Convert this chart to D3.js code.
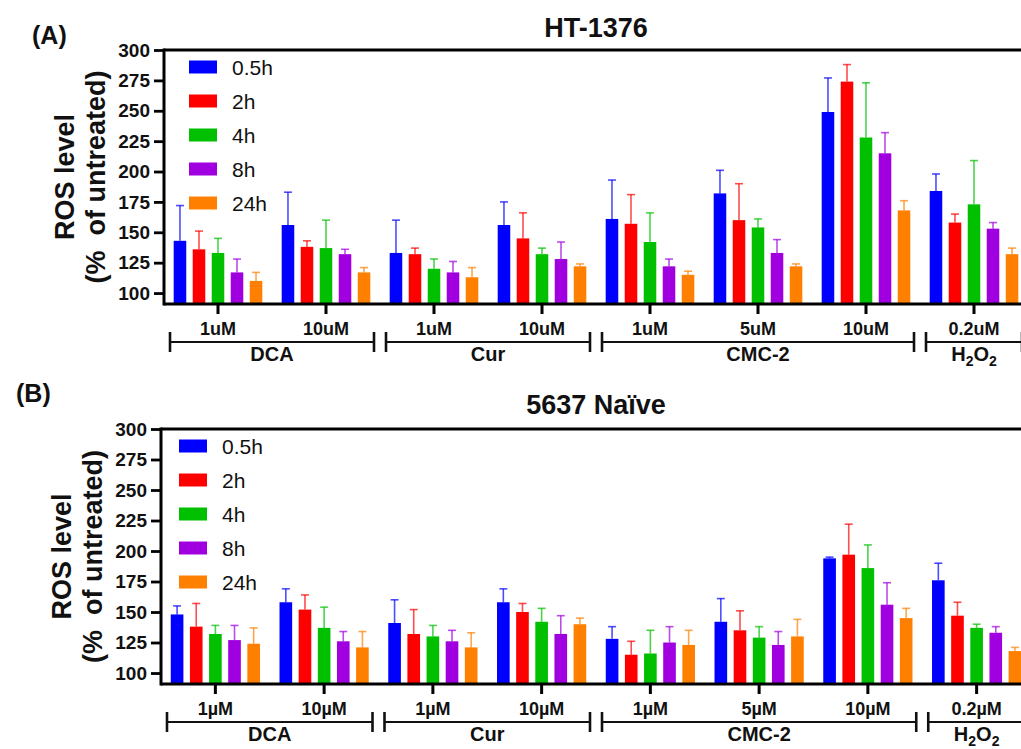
<!DOCTYPE html>
<html>
<head>
<meta charset="utf-8">
<script src="https://cdn.jsdelivr.net/npm/d3@7"></script>
<style>
body { margin: 0; background: #fff; }
svg { display: block; font-family: "Liberation Sans", Arial, sans-serif; }
text { white-space: pre; }
</style>
</head>
<body>
<svg width="1021" height="749"></svg>
<script>
// Time points (legend) and their colours.
var series = ["0.5h", "2h", "4h", "8h", "24h"];
var colors = ["#0000ff", "#ff0000", "#00c000", "#a000e0", "#ff8000"];

// Concentration ticks and the drug groups they belong to.
var ticksA = ["1uM", "10uM", "1uM", "10uM", "1uM", "5uM", "10uM", "0.2uM"];
var ticksB = ["1\u00b5M", "10\u00b5M", "1\u00b5M", "10\u00b5M", "1\u00b5M", "5\u00b5M", "10\u00b5M", "0.2\u00b5M"];
var drugs = ["DCA", "Cur", "CMC-2", "H2O2"];
var drugSpan = [[0, 1], [2, 3], [4, 6], [7, 7]];

var yTicks = [100, 125, 150, 175, 200, 225, 250, 275, 300];

// HT-1376: mean per concentration, one row per time point.
var meanA = [
	[143, 156, 133, 156, 161, 182, 249, 184],
	[136, 138, 132, 145, 157, 160, 274, 158],
	[133, 137, 120, 132, 142, 154, 228, 173],
	[117, 132, 117, 128, 122, 133, 215, 153],
	[110, 117, 113, 122, 115, 122, 168, 132]
];
var errA = [
	[172, 183, 160, 175, 193, 201, 277, 198],
	[151, 143, 137, 166, 181, 190, 288, 165],
	[145, 160, 128, 137, 166, 161, 273, 209],
	[128, 136, 126, 142, 128, 144, 232, 158],
	[117, 121, 121, 124, 118, 124, 176, 137]
];

// 5637 Naive.
var meanB = [
	[148, 158, 141, 158, 128, 142, 194, 176],
	[138, 152, 132, 150, 115, 135, 197, 147],
	[132, 137, 130, 142, 116, 129, 186, 137],
	[127, 126, 126, 132, 125, 123, 156, 133],
	[124, 121, 121, 140, 123, 130, 145, 118]
];
var errB = [
	[155, 169, 160, 169, 138, 161, 195, 190],
	[157, 164, 152, 157, 126, 151, 222, 158],
	[139, 154, 139, 153, 135, 138, 205, 140],
	[139, 134, 135, 147, 138, 134, 174, 138],
	[137, 134, 133, 145, 135, 144, 153, 121]
];

var svg = d3.select("svg");

function panel(opt) {
	var g = svg.append("g");

	var x0 = d3.scaleBand().domain(d3.range(8)).range([opt.left, opt.right]);
	var x1 = d3.scaleBand().domain(series).range([0, x0.bandwidth()])
		.paddingInner(0.34).paddingOuter(0.51);
	var y = d3.scaleLinear().domain([91, 300]).range([opt.bottom, opt.top]);

	// Bars and error bars.
	series.forEach(function(s, si) {
		var rows = d3.range(8).map(function(i) {
			return { i: i, v: opt.mean[si][i], e: opt.err[si][i] };
		});
		var sg = g.append("g");
		sg.selectAll("line.err")
			.data(rows)
			.enter()
			.append("line")
			.attr("x1", function(d) { return x0(d.i) + x1(s) + x1.bandwidth() / 2; })
			.attr("x2", function(d) { return x0(d.i) + x1(s) + x1.bandwidth() / 2; })
			.attr("y1", function(d) { return y(d.v); })
			.attr("y2", function(d) { return y(d.e); })
			.attr("stroke", colors[si])
			.attr("stroke-opacity", 0.7)
			.attr("stroke-width", 1.6);
		sg.selectAll("line.cap")
			.data(rows)
			.enter()
			.append("line")
			.attr("x1", function(d) { return x0(d.i) + x1(s) + x1.bandwidth() / 2 - 4; })
			.attr("x2", function(d) { return x0(d.i) + x1(s) + x1.bandwidth() / 2 + 4; })
			.attr("y1", function(d) { return y(d.e); })
			.attr("y2", function(d) { return y(d.e); })
			.attr("stroke", colors[si])
			.attr("stroke-opacity", 0.7)
			.attr("stroke-width", 1.6);
		sg.selectAll("rect")
			.data(rows)
			.enter()
			.append("rect")
			.attr("x", function(d) { return x0(d.i) + x1(s); })
			.attr("y", function(d) { return y(d.v); })
			.attr("width", x1.bandwidth())
			.attr("height", function(d) { return opt.bottom - y(d.v); })
			.attr("fill", colors[si]);
	});

	// Left axis.
	var yAxis = g.append("g")
		.attr("transform", "translate(" + opt.left + ",0)")
		.call(d3.axisLeft(y).tickValues(yTicks).tickSize(10).tickPadding(4));
	yAxis.select(".domain").remove();
	yAxis.selectAll("line").attr("stroke-width", 2.8);
	yAxis.selectAll("text")
		.attr("font-size", 19)
		.attr("font-weight", "bold")
		.attr("font-family", "Liberation Sans, Arial, sans-serif")
		.attr("fill", "#111");

	// Frame: left, top and bottom lines.
	g.append("line")
		.attr("x1", opt.left).attr("x2", opt.left)
		.attr("y1", y(300) - 1.4).attr("y2", opt.bottom + 1.4)
		.attr("stroke", "#000").attr("stroke-width", 3);
	g.append("line")
		.attr("x1", opt.left).attr("x2", 1021)
		.attr("y1", y(300)).attr("y2", y(300))
		.attr("stroke", "#000").attr("stroke-width", 3);

	var xAxis = g.append("g")
		.attr("transform", "translate(0," + opt.bottom + ")")
		.call(d3.axisBottom(x0).tickSize(10).tickSizeOuter(0).tickPadding(8)
			.tickFormat(function(i) { return opt.ticks[i]; }));
	xAxis.select(".domain").attr("stroke-width", 3)
		.attr("d", "M" + opt.left + ",0H1021");
	xAxis.selectAll("line").attr("stroke-width", 3);
	xAxis.selectAll("text")
		.attr("font-size", 18)
		.attr("font-weight", "bold")
		.attr("font-family", "Liberation Sans, Arial, sans-serif")
		.attr("fill", "#111");

	// Drug brackets.
	var by = opt.bottom + 38;
	drugs.forEach(function(name, k) {
		var a = x0(drugSpan[k][0]) + 6;
		var b = x0(drugSpan[k][1]) + x0.bandwidth() - 6;
		g.append("line").attr("x1", a).attr("x2", b).attr("y1", by).attr("y2", by)
			.attr("stroke", "#111").attr("stroke-width", 2.2);
		[a, b].forEach(function(px) {
			g.append("line").attr("x1", px).attr("x2", px).attr("y1", by - 10).attr("y2", by + 10)
				.attr("stroke", "#111").attr("stroke-width", 2.6);
		});
		var t = g.append("text")
			.attr("x", (a + b) / 2)
			.attr("y", by + 19)
			.attr("text-anchor", "middle")
			.attr("font-size", 20)
			.attr("font-weight", "bold")
			.attr("fill", "#111");
		if (name === "H2O2") {
			t.append("tspan").text("H");
			t.append("tspan").attr("font-size", 14).attr("dy", 5).text("2");
			t.append("tspan").attr("dy", -5).text("O");
			t.append("tspan").attr("font-size", 14).attr("dy", 5).text("2");
		} else {
			t.text(name);
		}
	});

	// Legend.
	series.forEach(function(s, si) {
		var ly = opt.legY + si * 34;
		g.append("rect")
			.attr("x", opt.legX).attr("y", ly - 6.5)
			.attr("width", 28).attr("height", 13)
			.attr("fill", colors[si]);
		g.append("text")
			.attr("x", opt.legX + 43).attr("y", ly + 7.5)
			.attr("font-size", 21)
			.attr("fill", "#111")
			.text(s);
	});

	// Y label.
	var cy = (opt.top + opt.bottom) / 2;
	g.append("text")
		.attr("transform", "translate(" + opt.yl1 + "," + cy + ") rotate(-90)")
		.attr("text-anchor", "middle")
		.attr("font-size", 27)
		.attr("font-weight", "bold")
		.attr("fill", "#111")
		.text("ROS level");
	g.append("text")
		.attr("transform", "translate(" + opt.yl2 + "," + cy + ") rotate(-90)")
		.attr("text-anchor", "middle")
		.attr("font-size", 27)
		.attr("font-weight", "bold")
		.attr("fill", "#111")
		.text("(%  of untreated)");

	// Title and panel letter.
	g.append("text")
		.attr("x", (opt.left + opt.right) / 2).attr("y", opt.titleY)
		.attr("text-anchor", "middle")
		.attr("font-size", 27)
		.attr("font-weight", "bold")
		.attr("fill", "#111")
		.text(opt.title);
	g.append("text")
		.attr("x", opt.letterX).attr("y", opt.letterY)
		.attr("font-size", 25)
		.attr("font-weight", "bold")
		.attr("fill", "#111")
		.text(opt.letter);
}

panel({
	mean: meanA, err: errA, ticks: ticksA,
	left: 164, right: 1028, top: 50, bottom: 304,
	legX: 189, legY: 67, yl1: 74, yl2: 105,
	title: "HT-1376", titleY: 37, letter: "(A)", letterX: 32, letterY: 44
});

panel({
	mean: meanB, err: errB, ticks: ticksB,
	left: 161, right: 1031, top: 429, bottom: 684,
	legX: 179, legY: 446, yl1: 71, yl2: 102,
	title: "5637 Na\u00efve", titleY: 414, letter: "(B)", letterX: 16, letterY: 402
});
</script>
</body>
</html>
